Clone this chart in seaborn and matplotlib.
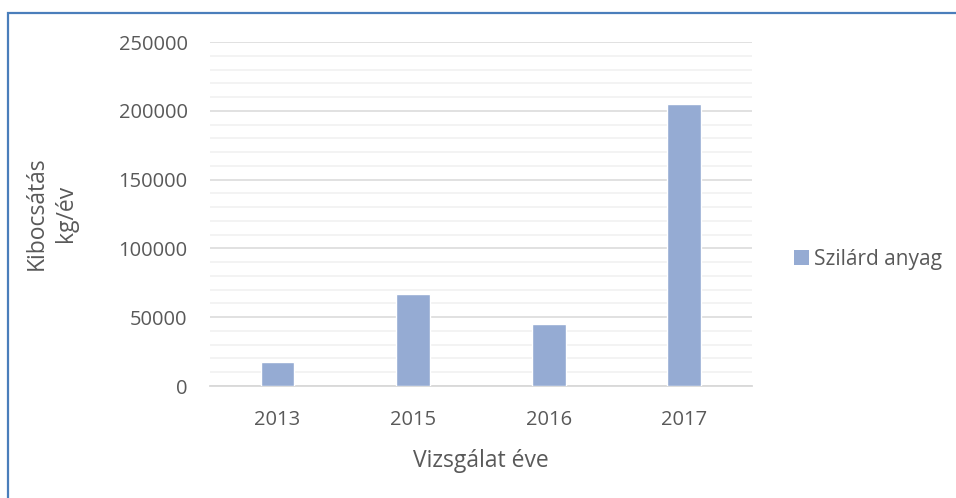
import numpy as np
import pandas as pd
import matplotlib
matplotlib.use("Agg")
import matplotlib.pyplot as plt
import seaborn as sns
from matplotlib.patches import Rectangle, Patch
from matplotlib.ticker import MultipleLocator

years = ["2013", "2015", "2016", "2017"]
emission = [17200, 66900, 45000, 205000]
series_name = "Szilárd anyag"

BAR_COLOR = "#95ABD3"
TEXT_COLOR = "#595959"

sns.set_theme(style="white")
plt.rcParams["font.family"] = ["Open Sans", "DejaVu Sans"]

df = pd.DataFrame({"year": years, "value": emission})

W, H = 956, 498
fig = plt.figure(figsize=(W / 100, H / 100), dpi=100)
ax = fig.add_axes([209.75 / W, 1 - 386 / H, (752 - 209.75) / W, (386 - 42) / H])

sns.barplot(data=df, x="year", y="value", color=BAR_COLOR, saturation=1,
            width=0.25, ax=ax, zorder=3)

ax.set_ylim(0, 250000)
ax.set_xlim(-0.5, len(years) - 0.5)
ax.yaxis.set_major_locator(MultipleLocator(50000))
ax.yaxis.set_minor_locator(MultipleLocator(10000))
ax.grid(which="major", axis="y", color="#D9D9D9", linewidth=1.1, zorder=1)
ax.grid(which="minor", axis="y", color="#F0F0F0", linewidth=1.1, zorder=0)
ax.grid(axis="x", visible=False)
ax.set_axisbelow(True)

for s in ["top", "right", "left"]:
    ax.spines[s].set_visible(False)
ax.spines["bottom"].set_color("#D9D9D9")
ax.spines["bottom"].set_linewidth(1.3)

ax.tick_params(axis="both", which="both", length=0, labelsize=14.5,
               labelcolor=TEXT_COLOR)
ax.tick_params(axis="y", pad=16)
ax.tick_params(axis="x", pad=17)

ax.set_xlabel("Vizsgálat éve", fontsize=16.5, color=TEXT_COLOR, labelpad=14)
ax.set_ylabel("")
fig.text(51 / W, 1 - 213 / H, "Kibocsátás\nkg/év", rotation=90, ha="center",
         va="center", fontsize=16.5, color=TEXT_COLOR, linespacing=1.3)

handle = Patch(facecolor=BAR_COLOR, edgecolor="none")
fig.legend([handle], [series_name], loc="center left",
           bbox_to_anchor=(775 / W, 1 - 259 / H), frameon=False,
           fontsize=15, labelcolor=TEXT_COLOR, handlelength=0.75,
           handleheight=0.75, handletextpad=0.2)

# chart frame (only left and top edges are visible in the crop)
fig.patches.append(Rectangle((7.5 / W, -0.1), 2.0, 1.1 - 13 / H,
                             transform=fig.transFigure, fill=False,
                             edgecolor="#4A7EBB", linewidth=1.6))

fig.savefig("out.png", dpi=100)
